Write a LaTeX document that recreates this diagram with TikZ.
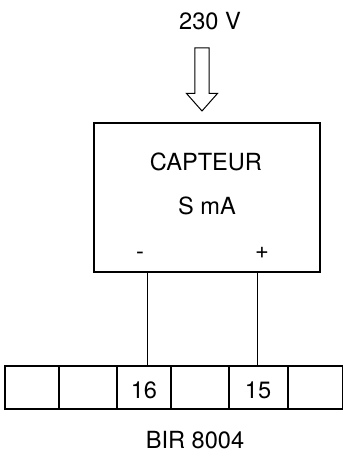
\documentclass[tikz,border=0pt]{standalone}
\usepackage{fontspec}
\setmainfont{TeX Gyre Heros}
\usetikzlibrary{shapes}
\usetikzlibrary{shapes.arrows}
\tikzstyle{capteur}=[rectangle,draw=black,line width=1pt,outer sep=0pt,minimum width=169.5pt,minimum height=111.75pt]
\tikzstyle{cell}=[rectangle,draw=black,line width=1pt,outer sep=0pt,minimum height=32.25pt]
\tikzstyle{supply}=[single arrow,draw=black,line width=0.75pt,shape border rotate=270,inner sep=4.9pt,
minimum height=47.25pt,single arrow head extend=6.4pt,single arrow tip angle=83,single arrow head indent=0pt]
\tikzstyle{wire}=[line width=0.7pt]
\tikzstyle{txt}=[inner sep=0pt,outer sep=0pt]
\begin{document}
\begin{tikzpicture}[x=0.75pt,y=-0.75pt,font=\fontsize{17.7}{20}\selectfont]
        \useasboundingbox (0,0) rectangle (343,451);
        \node [style=txt] (volt) at (210,21) {230 V};
        \node [style=supply] (arrow) at (202,75.5) {};
        \node [style=capteur] (capt) at (207,197.5) {};
        \node [style=txt] (name) at (206,162) {CAPTEUR};
        \node [style=txt] (unit) at (207,206) {S mA};
        \node [style=txt] (minus) at (140,256) {-};
        \node [style=txt] (plus) at (262,253) {+};
        \node [style=cell,minimum width=40.5pt] (c1) at (32,387.5) {};
        \node [style=cell,minimum width=43.5pt] (c2) at (88,387.5) {};
        \node [style=cell,minimum width=40.5pt] (c3) at (144,387.5) {};
        \node [style=cell,minimum width=43.5pt] (c4) at (200,387.5) {};
        \node [style=cell,minimum width=44.25pt] (c5) at (258.5,387.5) {};
        \node [style=cell,minimum width=41.25pt] (c6) at (315.5,387.5) {};
        \node [style=txt] (t16) at (144,390) {16};
        \node [style=txt] (t15) at (258,390) {15};
        \node [style=txt] (bir) at (195,440.5) {BIR 8004};
        \coordinate (pm) at (147,272);
        \coordinate (pp) at (257.7,272);
        \draw [style=wire] (pm) to (pm |- c3.north);
        \draw [style=wire] (pp) to (pp |- c5.north);
    \end{tikzpicture}
\end{document}
